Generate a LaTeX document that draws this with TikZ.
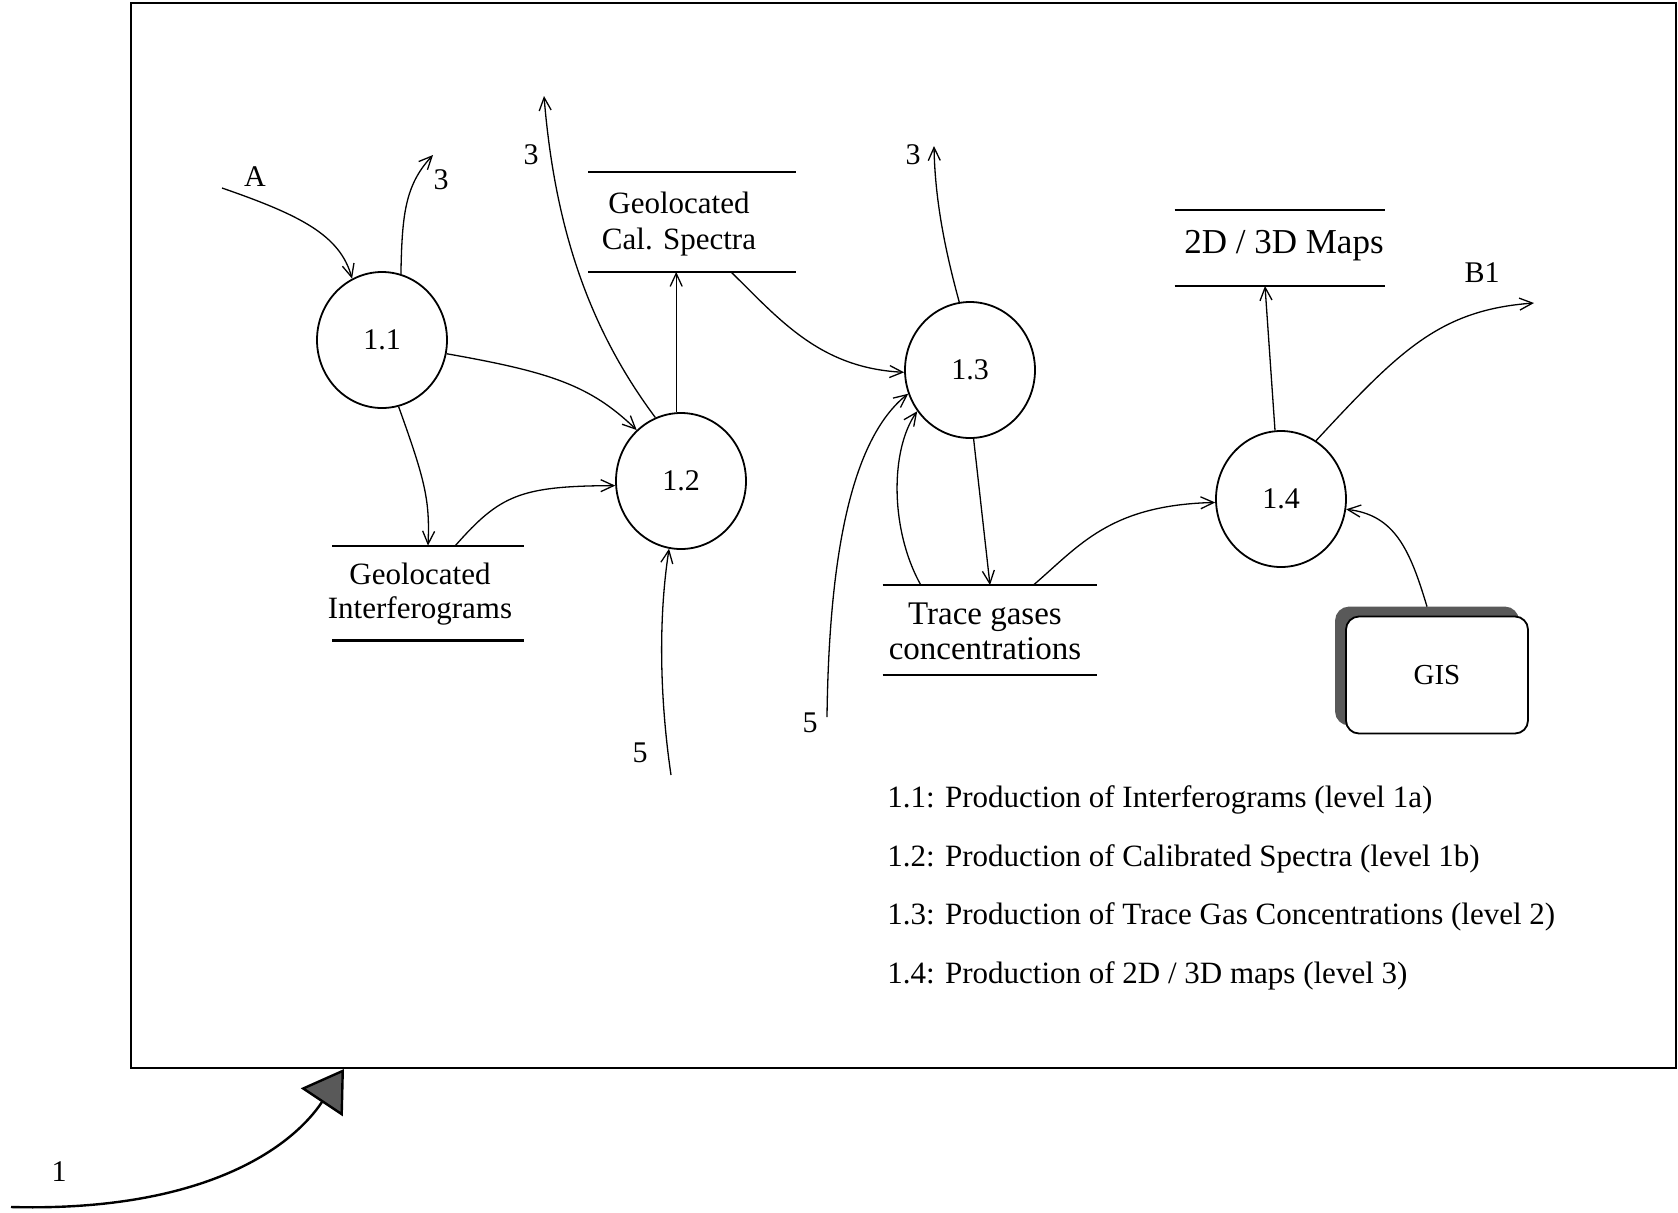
\documentclass[tikz,border=0pt]{standalone}
\usepackage{fontspec}
\setmainfont{Liberation Serif}
\usetikzlibrary{shapes.geometric,arrows.meta,shadows}
\begin{document}
\begin{tikzpicture}[x=0.5pt,y=-0.5pt,
  proc/.style={draw,ellipse,line width=0.9pt,minimum width=65pt,minimum height=68pt,inner sep=0pt,font=\fontsize{15}{17}\selectfont},
  storebox/.style={inner sep=0pt},
  storetext/.style={align=center,inner sep=0pt,font=\fontsize{15.5}{17}\selectfont},
  sline/.style={line width=1.1pt},
  flow/.style={line width=0.65pt,-{Straight Barb[length=6.5pt,width=6pt]}},
  lbl/.style={font=\fontsize{15}{17}\selectfont,inner sep=0pt},
  legend/.style={anchor=west,font=\fontsize{15.5}{17}\selectfont,inner sep=0pt}]
\useasboundingbox (0,0) rectangle (1678,1212);

% frame
\node[draw,line width=1pt,minimum width=772.5pt,minimum height=532.5pt,inner sep=0pt] (frame) at (903.5,535.5) {};

% processes
\node[proc] (p11) at (382,340) {1.1};
\node[proc] (p12) at (681,481) {1.2};
\node[proc] (p13) at (970,370) {1.3};
\node[proc] (p14) at (1281,499) {1.4};

% stores
\node[storebox,minimum width=103.5pt,minimum height=49.5pt] (scal) at (692,222) {};
\node[storebox,minimum width=95.5pt,minimum height=47pt] (sint) at (428,593) {};
\node[storebox,minimum width=105pt,minimum height=37.5pt] (smap) at (1280,248) {};
\node[storebox,minimum width=107pt,minimum height=44.5pt] (strace) at (990,630) {};
\foreach \s in {scal,sint,smap,strace}{
  \draw[sline] (\s.north west) -- (\s.north east) (\s.south west) -- (\s.south east);
}
\node[storetext,font=\fontsize{15.5}{18}\selectfont] (tcal) at (679,224) {Geolocated\\Cal. Spectra};
\node[storetext] (tint) at (420,594) {Geolocated\\Interferograms};
\node[storetext,font=\fontsize{17.5}{19}\selectfont] (tmap) at (1284,246) {2D / 3D Maps};
\node[storetext,font=\fontsize{16.5}{17.5}\selectfont] (ttrace) at (985,631) {Trace gases\\concentrations};

% GIS
\node[draw,rounded corners=6.5pt,fill=white,minimum width=91pt,minimum height=58.5pt,line width=0.9pt,
  copy shadow={shadow xshift=-5pt,shadow yshift=4.5pt,fill=black!65,draw=black!65},
  font=\fontsize{14.5}{16}\selectfont] (gis) at (1437,675) {GIS};

% labels
\node[lbl] (la) at (255,177) {A};
\node[lbl] (l3a) at (441,180) {3};
\node[lbl] (l3b) at (531,155) {3};
\node[lbl] (l3c) at (913,155) {3};
\node[lbl] (l5a) at (640,753) {5};
\node[lbl] (l5b) at (810,723) {5};
\node[lbl] (lb1) at (1482,273) {B1};
\node[lbl] (l1) at (59,1172) {1};

% legend
\node[legend] (g1) at (887,800) {1.1: Production of Interferograms (level 1a)};
\node[legend] (g2) at (887,859) {1.2: Production of Calibrated Spectra (level 1b)};
\node[legend] (g3) at (887,917) {1.3: Production of Trace Gas Concentrations (level 2)};
\node[legend] (g4) at (887,976) {1.4: Production of 2D / 3D maps (level 3)};

% free ends
\coordinate (ina) at (222,188);
\coordinate (o3a) at (433,155);
\coordinate (o3b) at (544,96);
\coordinate (o3c) at (934,146);
\coordinate (i5a) at (671,775);
\coordinate (i5b) at (827,717);
\coordinate (ob1) at (1534,303);
\coordinate (i1) at (11,1207);

% flows
\draw[flow] (ina) .. controls (300,215) and (340,235) .. (p11.116);
\draw[flow] (p11.74) .. controls (402,215) and (405,185) .. (o3a);
\draw[flow] (p11.-12) .. controls (550,372) and (590,385) .. (p12.131);
\draw[flow] (p11.-76) .. controls (425,480) and (430,500) .. (sint.north);
\draw[flow] (sint.60) .. controls (500,495) and (520,486) .. (p12.184);
\draw[flow] (p12.112) .. controls (590,330) and (555,230) .. (o3b);
\draw[flow] (p12.94) -- (p12.94 |- scal.south);
\draw[flow] (i5a) .. controls (660,700) and (658,620) .. (p12.-100);
\draw[flow] (scal.-52) .. controls (780,320) and (820,368) .. (p13.182);
\draw[flow] (p13.99) .. controls (945,250) and (935,200) .. (o3c);
\draw[flow] (i5b) .. controls (829,560) and (850,440) .. (p13.201);
\draw[flow] (strace.147) .. controls (890,530) and (890,450) .. (p13.218);
\draw[flow] (p13.-87) -- (strace.north);
\draw[flow] (strace.46) .. controls (1080,545) and (1110,505) .. (p14.183);
\draw[flow] (p14.95) -- ([xshift=-7.5pt]smap.south);
\draw[flow] (p14.59) .. controls (1400,350) and (1440,310) .. (ob1);
\draw[flow] ([shift={(-5pt,4.5pt)}]gis.north) .. controls (1410,550) and (1395,515) .. (p14.-9);

% big input arrow
\draw[line width=1.2pt,-{Triangle[length=20pt,width=25pt,fill=black!65]}] (i1) .. controls (200,1212) and (290,1150) .. ([xshift=107pt]frame.south west);
\end{tikzpicture}
\end{document}
